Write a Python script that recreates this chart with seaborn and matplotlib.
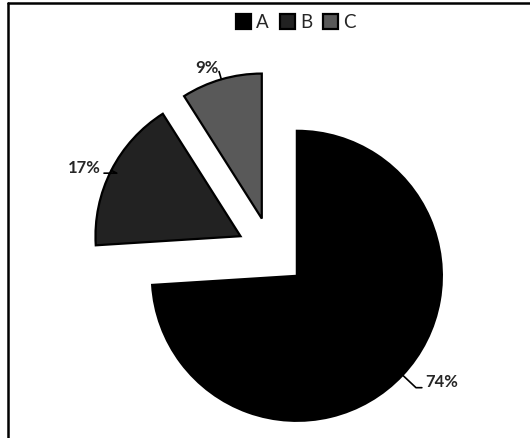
import numpy as np
import matplotlib
matplotlib.use("Agg")
from matplotlib import pyplot as plt
from matplotlib.lines import Line2D
import seaborn as sns

# chart data
categories = ["A", "B", "C"]
shares = [74, 17, 9]
pct_labels = ["74%", "17%", "9%"]
slice_colors = ["#000000", "#222222", "#595959"]

sns.set_style("white")
plt.rcParams["font.family"] = ["Lato", "DejaVu Sans"]

fig = plt.figure(figsize=(5.30, 4.38), dpi=100)
fig.patch.set_linewidth(0)
ax = fig.add_axes([0, 0, 1, 1])

wedges, _ = ax.pie(shares, colors=slice_colors, startangle=90, counterclock=False,
                   explode=[0.24] * len(shares),
                   wedgeprops=dict(edgecolor="black", linewidth=1.6))

# pie is centred at pixel (271.5, 252), radius 145 px
ax.set_xlim(-271.5 / 145, (530 - 271.5) / 145)
ax.set_ylim((252 - 438) / 145, 252 / 145)
ax.axis("off")

# labels with leader lines from each wedge's mid arc point
label_offsets = [(39, -7), (-27, 2), (-14, 11)]
label_relpos = [(0.0, 0.15), (1.0, 0.2), (1.0, 0.3)]
for w, txt, off, rel in zip(wedges, pct_labels, label_offsets, label_relpos):
    mid = np.deg2rad((w.theta1 + w.theta2) / 2)
    cx, cy = w.center
    px, py = cx + w.r * np.cos(mid), cy + w.r * np.sin(mid)
    ax.annotate(txt, xy=(px, py), xytext=off, textcoords="offset pixels",
                ha="center", va="center", fontsize=12, fontweight="bold",
                arrowprops=dict(arrowstyle="-", color="black", lw=1.2,
                                shrinkA=0, shrinkB=0, relpos=rel,
                                connectionstyle=f"angle,angleA=0,angleB={np.rad2deg(mid):.1f}"))

leg = ax.legend(wedges, categories, loc="upper center", bbox_to_anchor=(296 / 530, 1 - 1 / 438),
                bbox_transform=fig.transFigure, ncol=3, frameon=False, fontsize=13.5,
                handlelength=0.8, handleheight=0.8, handletextpad=0.25, columnspacing=0.6,
                borderpad=0.2)

# outer border: only the top and left edges fall inside the picture
fig.add_artist(Line2D([8 / 530, 1.0], [1 - 3 / 438] * 2, transform=fig.transFigure,
                      color="black", linewidth=1.8))
fig.add_artist(Line2D([8 / 530] * 2, [0.0, 1 - 3 / 438], transform=fig.transFigure,
                      color="black", linewidth=1.8))

fig.savefig("out.png", dpi=100)
